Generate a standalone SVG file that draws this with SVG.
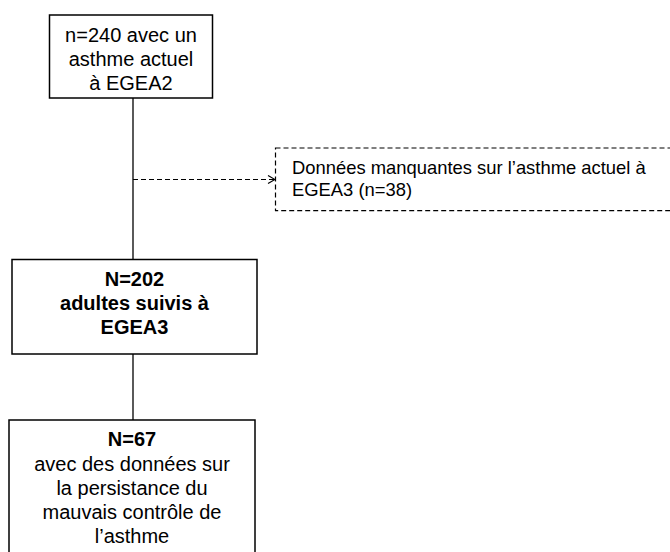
<svg xmlns="http://www.w3.org/2000/svg" width="670" height="552" viewBox="0 0 670 552">
  <defs>
    <style>
      .box { fill: #ffffff; stroke: #000000; stroke-width: 1.5; }
      .dbox { fill: #ffffff; stroke: #000000; stroke-width: 1.2; stroke-dasharray: 5 3; }
      .t { font-family: "Liberation Sans", Arial, sans-serif; font-size: 20px; fill: #000000; text-anchor: middle; }
      .b { font-weight: bold; }
      .s { font-family: "Liberation Sans", Arial, sans-serif; font-size: 18.4px; fill: #000000; }
      .line { stroke: #000000; stroke-width: 1.3; fill: none; }
      .dline { stroke: #000000; stroke-width: 1.2; fill: none; stroke-dasharray: 5 3; }
    </style>
    <marker id="chev" viewBox="0 0 10 10" refX="9" refY="5" markerWidth="10" markerHeight="10" markerUnits="userSpaceOnUse" orient="auto">
      <path d="M2,1 L9,5 L2,9" fill="none" stroke="#000000" stroke-width="1.2"/>
    </marker>
  </defs>
  <rect width="670" height="552" fill="#ffffff"/>

  <g id="connectors">
    <line class="line" x1="133" y1="98" x2="133" y2="259.5"/>
    <line class="line" x1="133" y1="354" x2="133" y2="420"/>
    <line class="dline" x1="133" y1="179.5" x2="275" y2="179.5" marker-end="url(#chev)"/>
  </g>

  <g id="node-egea2">
    <rect class="box" x="49.5" y="15" width="163" height="83"/>
    <text class="t" x="131" y="41.7">n=240 avec un</text>
    <text class="t" x="131" y="65.7">asthme actuel</text>
    <text class="t" x="131" y="89.5">à EGEA2</text>
  </g>

  <g id="node-missing">
    <rect class="dbox" x="275.5" y="148" width="410" height="62.7"/>
    <text class="s" x="292" y="173.5">Données manquantes sur l’asthme actuel à</text>
    <text class="s" x="292" y="196">EGEA3 (n=38)</text>
  </g>

  <g id="node-egea3">
    <rect class="box" x="12" y="259.5" width="245" height="94.5"/>
    <text class="t b" x="134.5" y="285.7">N=202</text>
    <text class="t b" x="134.5" y="310">adultes suivis à</text>
    <text class="t b" x="134.5" y="334.3">EGEA3</text>
  </g>

  <g id="node-control">
    <rect class="box" x="9" y="420" width="246" height="150"/>
    <text class="t b" x="132" y="446">N=67</text>
    <text class="t" x="132" y="470.5">avec des données sur</text>
    <text class="t" x="132" y="494.7">la persistance du</text>
    <text class="t" x="132" y="518.9">mauvais contrôle de</text>
    <text class="t" x="132" y="543">l’asthme</text>
  </g>
</svg>
